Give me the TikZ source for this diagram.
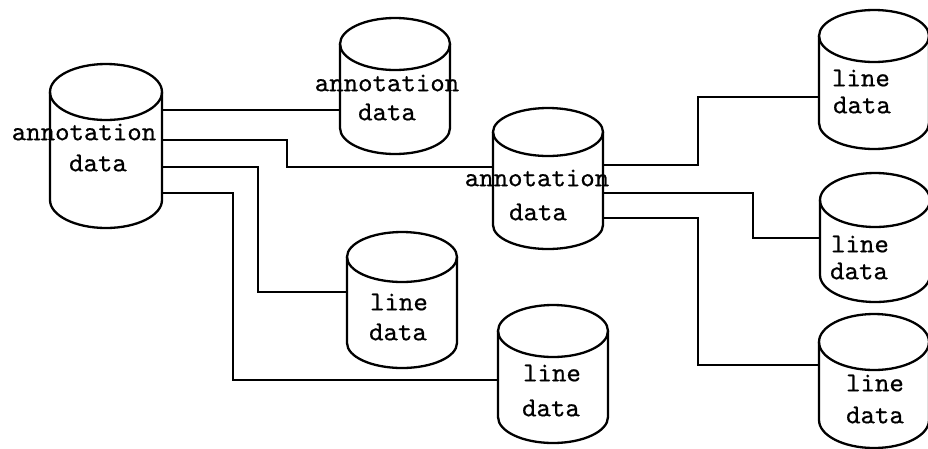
\documentclass[tikz,border=0pt]{standalone}
\usepackage{fontspec}
\newfontfamily\typefont{lmmono10-regular.otf}[FakeBold=0.5]
\usetikzlibrary{calc}

% A data drum: #1 name, #2 centre x, #3 y of the top ellipse, #4 y of the bottom arc,
% #5 half width, #6 half height of the ellipses
\newcommand\datadrum[6]{%
  \node[drumbody, minimum width={2*#5*1pt}, minimum height={(#4-#3)*1pt}]
    (#1) at (#2,{(#3+#4)/2}) {};
  \draw[drumline] (#2,#3) ellipse [x radius=#5pt, y radius=#6pt];
  \draw[drumline] (#1.north west) -- (#1.south west)
    arc[start angle=180, end angle=360, x radius=#5pt, y radius=#6pt]
    -- (#1.north east);
}

\tikzset{
  drumbody/.style={rectangle, inner sep=0pt, outer sep=0pt, draw=none},
  drumline/.style={line width=2.3pt, line join=round, line cap=round},
  link/.style={line width=2.2pt, line join=miter},
  caption/.style={inner sep=0pt, font=\typefont\fontsize{27.5}{30}\selectfont},
}

\begin{document}
\begin{tikzpicture}[x=1pt, y=-1pt]
  \clip (0,0) rectangle (928,448);
  \fill[white] (0,0) rectangle (928,448);

  % drums
  \datadrum{A}{106}{92}{200}{56}{28}
  \datadrum{B}{395}{44}{128}{55}{26}
  \datadrum{C}{548}{132}{225}{55}{24}
  \datadrum{D}{402}{257}{343}{55}{25}
  \datadrum{E}{553}{331}{417}{55}{26}
  \datadrum{F}{874}{36}{123}{55}{26}
  \datadrum{G}{875}{200}{275}{55}{27}
  \datadrum{H}{874}{342}{420}{55}{28}

  % captions
  \node[caption] (tA1) at (84,132) {annotation};
  \node[caption] (tA2) at (98,163) {data};
  \node[caption] (tB1) at (387,83) {annotation};
  \node[caption] (tB2) at (387,112) {data};
  \node[caption] (tC1) at (537,178) {annotation};
  \node[caption] (tC2) at (538,212) {data};
  \node[caption] (tD1) at (399,302) {line};
  \node[caption] (tD2) at (398,332) {data};
  \node[caption] (tE1) at (552,373) {line};
  \node[caption] (tE2) at (551,408) {data};
  \node[caption] (tF1) at (861,78) {line};
  \node[caption] (tF2) at (862,105) {data};
  \node[caption] (tG1) at (860,244) {line};
  \node[caption] (tG2) at (859,271) {data};
  \node[caption] (tH1) at (875,383) {line};
  \node[caption] (tH2) at (875,415) {data};

  % connection points on the drum sides
  \coordinate (a1) at ([yshift=-18pt]A.north east);
  \coordinate (a2) at ([yshift=-48pt]A.north east);
  \coordinate (a3) at ([yshift=-75pt]A.north east);
  \coordinate (a4) at ([yshift=-101pt]A.north east);
  \coordinate (c0) at ([yshift=-35pt]C.north west);
  \coordinate (d0) at ([yshift=-35pt]D.north west);
  \coordinate (e0) at ([yshift=-49pt]E.north west);
  \coordinate (c1) at ([yshift=-33pt]C.north east);
  \coordinate (c2) at ([yshift=-61pt]C.north east);
  \coordinate (c3) at ([yshift=-86pt]C.north east);
  \coordinate (f0) at ([yshift=-61pt]F.north west);
  \coordinate (g0) at ([yshift=-38pt]G.north west);
  \coordinate (h0) at ([yshift=-23pt]H.north west);

  % links
  \draw[link] (a1) -- (a1 -| B.west);
  \draw[link] (a2) -- ++(125pt,0) |- (c0);
  \draw[link] (a3) -- ++(96pt,0) |- (d0);
  \draw[link] (a4) -- ++(71pt,0) |- (e0);
  \draw[link] (c1) -- ++(95pt,0) |- (f0);
  \draw[link] (c2) -- ++(150pt,0) |- (g0);
  \draw[link] (c3) -- ++(95pt,0) |- (h0);
\end{tikzpicture}
\end{document}
